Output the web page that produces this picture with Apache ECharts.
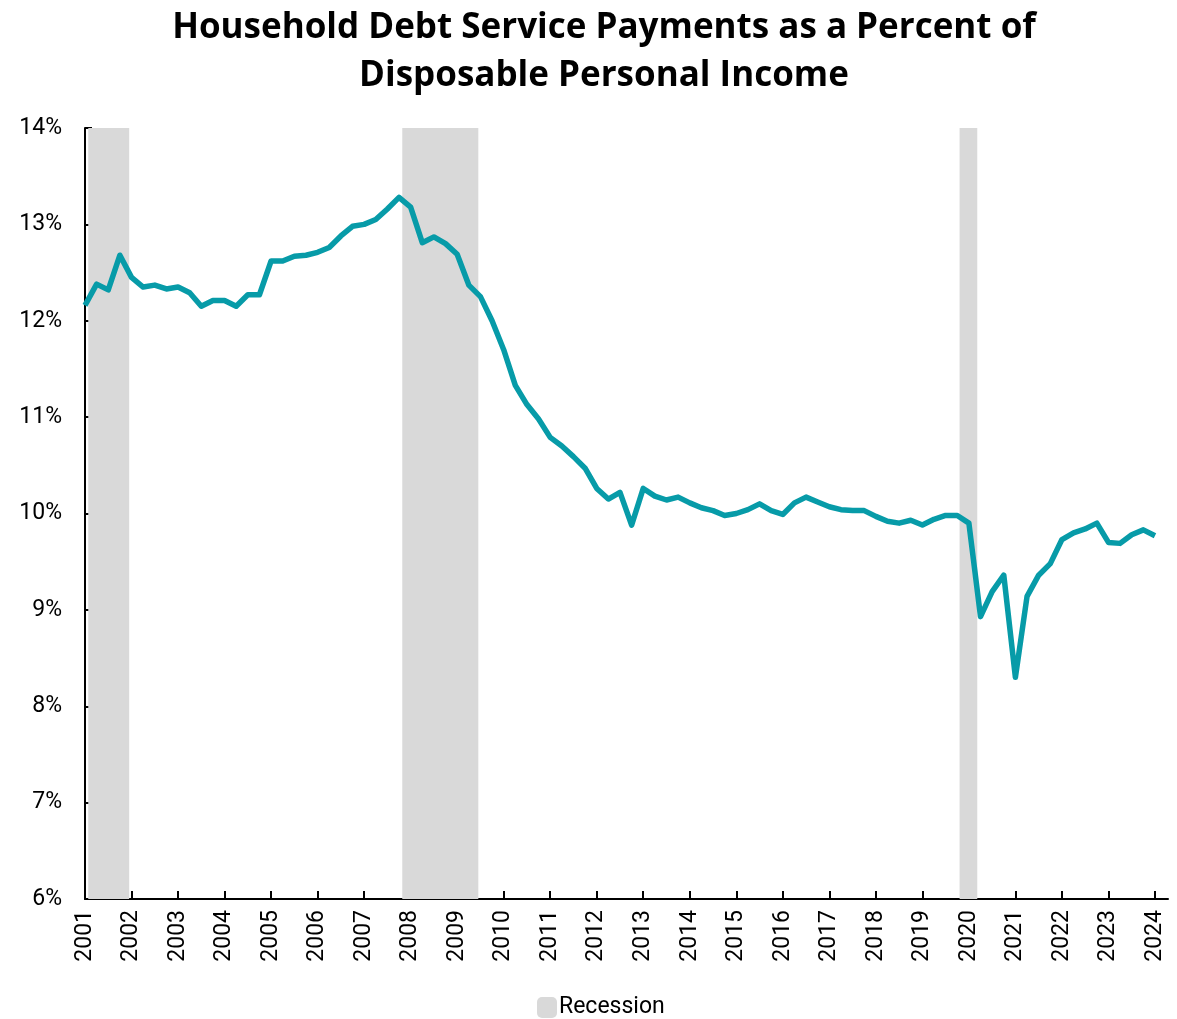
<!DOCTYPE html>
<html>
<head>
<meta charset="utf-8">
<title>Household Debt Service Payments</title>
<script src="https://cdn.jsdelivr.net/npm/echarts@6/dist/echarts.min.js"></script>
<style>
  html, body { margin: 0; padding: 0; background: #fff; }
  #chart { width: 1177px; height: 1019px; }
</style>
</head>
<body>
<div id="chart"></div>
<script>
// Quarterly series starting 2001 Q1
var firstYear = 2001;

// Debt service payments, % of disposable personal income (quarterly)
var debtServiceRatio = [
  12.16, 12.38, 12.32, 12.68,   // 2001
  12.45, 12.35, 12.37, 12.33,   // 2002
  12.35, 12.29, 12.15, 12.21,   // 2003
  12.21, 12.15, 12.27, 12.27,   // 2004
  12.62, 12.62, 12.67, 12.68,   // 2005
  12.71, 12.76, 12.88, 12.98,   // 2006
  13.00, 13.05, 13.16, 13.28,   // 2007
  13.18, 12.81, 12.87, 12.80,   // 2008
  12.69, 12.37, 12.25, 12.00,   // 2009
  11.70, 11.33, 11.13, 10.98,   // 2010
  10.79, 10.70, 10.59, 10.47,   // 2011
  10.26, 10.15, 10.22, 9.88,    // 2012
  10.26, 10.18, 10.14, 10.17,   // 2013
  10.11, 10.06, 10.03, 9.98,    // 2014
  10.00, 10.04, 10.10, 10.03,   // 2015
  9.99, 10.11, 10.17, 10.12,    // 2016
  10.07, 10.04, 10.03, 10.03,   // 2017
  9.97, 9.92, 9.90, 9.93,       // 2018
  9.88, 9.94, 9.98, 9.98,       // 2019
  9.90, 8.93, 9.19, 9.36,       // 2020
  8.30, 9.14, 9.36, 9.48,       // 2021
  9.73, 9.80, 9.84, 9.90,       // 2022
  9.70, 9.69, 9.78, 9.83,       // 2023
  9.77                          // 2024
];

// Recession periods as [start, end] in fractional years
var recessions = [
  [2001.07, 2001.95],
  [2007.82, 2009.455],
  [2019.80, 2020.18]
];

// Year ticks along the bottom axis
var yearTicks = [2001, 2002, 2003, 2004, 2005, 2006, 2007, 2008, 2009, 2010, 2011, 2012,
                 2013, 2014, 2015, 2016, 2017, 2018, 2019, 2020, 2021, 2022, 2023, 2024];

// Percent ticks on the left axis
var yMin = 6, yMax = 14, yStep = 1;

var points = debtServiceRatio.map(function (v, i) {
  return [firstYear + i / 4, v];
});

var chart = echarts.init(document.getElementById('chart'));
var font = 'Roboto, "Liberation Sans", sans-serif';
var titleFont = '"Open Sans", "Noto Sans", sans-serif';

chart.setOption({
  animation: false,
  backgroundColor: '#ffffff',
  title: {
    text: 'Household Debt Service Payments as a Percent of\nDisposable Personal Income',
    left: 599,
    textAlign: 'center',
    top: -1,
    textStyle: {
      fontFamily: titleFont,
      fontWeight: 'bold',
      fontSize: 35,
      lineHeight: 48,
      color: '#000'
    }
  },
  legend: {
    bottom: -5,
    left: 532,
    itemWidth: 20,
    itemHeight: 21,
    itemGap: 10,
    data: [{ name: 'Recession', icon: 'roundRect' }],
    textStyle: { fontFamily: font, fontSize: 23, color: '#000', padding: [0, 0, 0, -3] }
  },
  grid: {
    left: 85,
    right: 9,
    top: 128,
    bottom: 120,
    outerBoundsMode: 'none'
  },
  xAxis: {
    type: 'value',
    min: 2001,
    max: 2024.28,
    interval: 1,
    splitLine: { show: false },
    axisLine: { show: true, lineStyle: { color: '#000', width: 2 } },
    axisTick: {
      show: true, inside: true, length: 8,
      lineStyle: { color: '#000', width: 2 },
      customValues: yearTicks
    },
    axisLabel: {
      rotate: 90,
      margin: 11,
      fontFamily: font,
      fontSize: 23,
      color: '#000',
      customValues: yearTicks,
      formatter: function (v) { return String(Math.round(v)); }
    }
  },
  yAxis: {
    type: 'value',
    min: yMin,
    max: yMax,
    interval: yStep,
    splitLine: { show: false },
    axisLine: { show: true, lineStyle: { color: '#000', width: 2 } },
    axisTick: { show: true, inside: true, length: 7, lineStyle: { color: '#000', width: 2 } },
    axisLabel: {
      margin: 23,
      fontFamily: font,
      fontSize: 23,
      color: '#000',
      formatter: '{value}%'
    }
  },
  series: [
    {
      name: 'Recession',
      type: 'line',
      data: [],
      color: '#d9d9d9',
      z: 1,
      silent: true,
      markArea: {
        silent: true,
        itemStyle: { color: '#d9d9d9' },
        data: recessions.map(function (r) {
          return [{ xAxis: r[0] }, { xAxis: r[1] }];
        })
      }
    },
    {
      name: 'Debt service ratio',
      type: 'line',
      data: points,
      z: 3,
      symbol: 'none',
      smooth: false,
      lineStyle: { color: '#079ba8', width: 5.5, join: 'round' },
      itemStyle: { color: '#079ba8' }
    }
  ]
});
</script>
</body>
</html>
